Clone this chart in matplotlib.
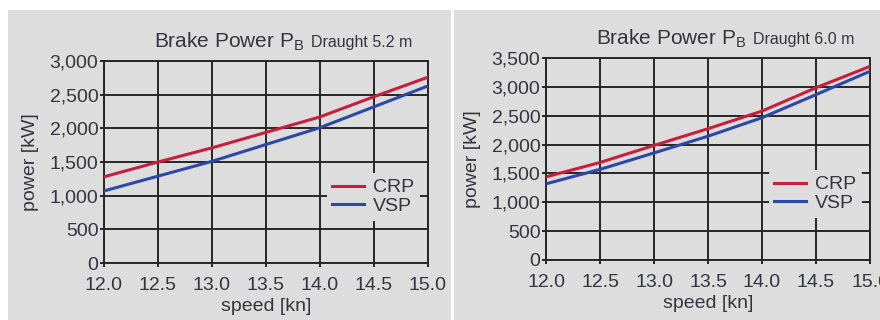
import numpy as np
import matplotlib
matplotlib.use("Agg")
import matplotlib.pyplot as plt
from matplotlib.patches import Rectangle

plt.rcParams['font.family'] = ['Liberation Sans', 'DejaVu Sans']

# speed in knots, brake power in kW
speed = [12.0, 12.5, 13.0, 13.5, 14.0, 14.5, 15.0]
crp_52 = [1280, 1500, 1710, 1940, 2170, 2470, 2760]
vsp_52 = [1070, 1290, 1510, 1760, 2010, 2320, 2630]
crp_60 = [1440, 1690, 1985, 2275, 2580, 2985, 3355]
vsp_60 = [1320, 1570, 1855, 2145, 2465, 2865, 3270]

draughts = ['Draught 5.2 m', 'Draught 6.0 m']
ymax = [3000, 3500]

txt = '#34343e'
bg = '#dddddd'
red = '#c81e3c'
blue = '#2c48a6'
W, H = 880, 320

fig = plt.figure(figsize=(8.8, 3.2), dpi=100)
fig.patch.set_facecolor('white')

# grey panels behind each chart
for x0, x1 in [(8, 451), (454, 880)]:
    fig.add_artist(Rectangle((x0 / W, 0), (x1 - x0) / W, (H - 10) / H,
                             transform=fig.transFigure, facecolor=bg,
                             edgecolor='none', zorder=-10))

boxes = [(104, 61, 428, 263), (546, 58, 870, 260)]
series = [(crp_52, vsp_52), (crp_60, vsp_60)]

for (l, t, r, b), (crp, vsp), title, top in zip(boxes, series, draughts, ymax):
    ax = fig.add_axes([l / W, (H - b) / H, (r - l) / W, (b - t) / H])
    ax.set_facecolor(bg)
    ax.plot(speed, crp, color=red, lw=2.2, label='CRP', zorder=3)
    ax.plot(speed, vsp, color=blue, lw=2.2, label='VSP', zorder=3)
    ax.set_xlim(12.0, 15.0)
    ax.set_ylim(0, top)
    ax.set_xticks(np.arange(12.0, 15.01, 0.5))
    ax.set_yticks(np.arange(0, top + 1, 500))
    ax.set_xticklabels([f'{v:.1f}' for v in np.arange(12.0, 15.01, 0.5)])
    ax.set_yticklabels([f'{v:,}' for v in range(0, top + 1, 500)])
    ax.grid(True, color='#262626', lw=1.4, zorder=1)
    for s in ax.spines.values():
        s.set_color('#262626')
        s.set_linewidth(1.4)
    ax.tick_params(colors='#262626', labelcolor=txt, labelsize=14,
                   length=3, width=1.4)
    ax.tick_params(axis='y', pad=1)
    ax.tick_params(axis='x', pad=7)
    ax.set_xlabel('speed [kn]', fontsize=14, color=txt, labelpad=3)
    ax.set_ylabel('power [kW]', fontsize=14, color=txt, labelpad=8)

    leg = ax.legend(loc='lower right', bbox_to_anchor=(1.0, 0.17),
                    frameon=True, fontsize=14, handlelength=1.6,
                    handletextpad=0.5, labelspacing=0.05,
                    borderpad=0.3, borderaxespad=0.4)
    leg.get_frame().set_facecolor(bg)
    leg.get_frame().set_edgecolor('none')
    leg.get_frame().set_alpha(1)
    for tx in leg.get_texts():
        tx.set_color(txt)

    head = ax.text(0.155, 1.04, r'Brake Power P$_{\mathregular{B}}$',
                   transform=ax.transAxes, fontsize=15, color=txt,
                   ha='left', va='bottom')
    ax.annotate(title, xy=(1, 0), xycoords=head, xytext=(4.5, 2),
                textcoords='offset points', fontsize=11.5, color=txt,
                ha='left', va='bottom')

fig.savefig('out.png', dpi=100)
